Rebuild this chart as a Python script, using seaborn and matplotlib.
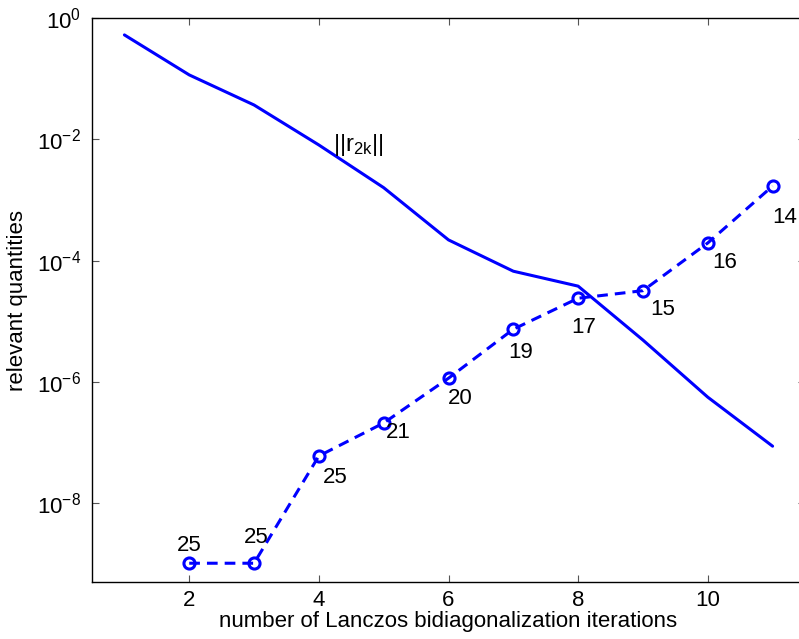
import matplotlib
matplotlib.use("Agg")
import matplotlib.pyplot as plt
import matplotlib.ticker as mticker
import seaborn as sns

# --- data ---
iters_res = [1, 2, 3, 4, 5, 6, 7, 8, 9, 10, 11]
res_norm = [0.53, 0.116, 0.037, 0.0081, 1.6e-3, 2.2e-4, 6.7e-5, 3.8e-5, 4.9e-6, 5.6e-7, 8.7e-8]

iters_q = [2, 3, 4, 5, 6, 7, 8, 9, 10, 11]
quantity = [1.02e-9, 1.02e-9, 6.0e-8, 2.1e-7, 1.15e-6, 7.4e-6, 2.4e-5, 3.2e-5, 1.96e-4, 1.7e-3]
point_labels = ["25", "25", "25", "21", "20", "19", "17", "15", "16", "14"]

y_ticks = [1e-8, 1e-6, 1e-4, 1e-2, 1e0]
y_tick_labels = [r"$10^{-8}$", r"$10^{-6}$", r"$10^{-4}$", r"$10^{-2}$", r"$10^{0}$"]
x_ticks = [2, 4, 6, 8, 10]

# label offsets in pixels (dx, dy)
label_offsets = [(0, 18), (2, 26), (16, -22), (15, -10), (12, -20),
                 (7, -23), (6, -29), (20, -19), (17, -20), (12, -31)]

# --- style ---
sns.set_style("white")
plt.rcParams["font.family"] = ["Liberation Sans", "DejaVu Sans"]
plt.rcParams["mathtext.default"] = "regular"
plt.rcParams["text.color"] = "black"
plt.rcParams["axes.labelcolor"] = "black"
plt.rcParams["xtick.color"] = "black"
plt.rcParams["ytick.color"] = "black"

fig = plt.figure(figsize=(7.99, 6.39), dpi=100)
ax = fig.add_axes([92 / 799, 57 / 639, 713 / 799, 563.8 / 639])

sns.lineplot(x=iters_res, y=res_norm, ax=ax, color="blue", linewidth=2.2)
sns.lineplot(x=iters_q, y=quantity, ax=ax, color="blue", linewidth=2.2,
             linestyle=(0, (3.5, 2.3)), marker="o", markersize=8,
             markerfacecolor="none", markeredgecolor="blue", markeredgewidth=2.2)

for xi, yi, lab, (dx, dy) in zip(iters_q, quantity, point_labels, label_offsets):
    ax.annotate(lab, (xi, yi), xytext=(dx, dy), textcoords="offset pixels",
                ha="center", va="center", fontsize=16)

ax.text(4.22, 10 ** -2.09, r"$||r_{2k}||$", ha="left", va="center", fontsize=17)

ax.set_yscale("log")
ax.set_xlim(0.5, 11.5)
ax.set_ylim(5e-10, 1)
ax.yaxis.set_major_locator(mticker.FixedLocator(y_ticks))
ax.yaxis.set_major_formatter(mticker.FixedFormatter(y_tick_labels))
ax.yaxis.set_minor_locator(mticker.NullLocator())
ax.set_xticks(x_ticks)
ax.set_xticklabels([str(t) for t in x_ticks])

ax.tick_params(direction="in", length=5, width=0.8, color="#555555",
               bottom=True, left=True, top=True, right=True,
               labelsize=16, pad=8)
ax.tick_params(axis="x", pad=6)
for s in ax.spines.values():
    s.set_color("black")
    s.set_linewidth(1.0)

ax.set_xlabel("number of Lanczos bidiagonalization iterations", fontsize=16, labelpad=0)
ax.set_ylabel("relevant quantities", fontsize=16, labelpad=6)

fig.savefig("out.png", dpi=100)
